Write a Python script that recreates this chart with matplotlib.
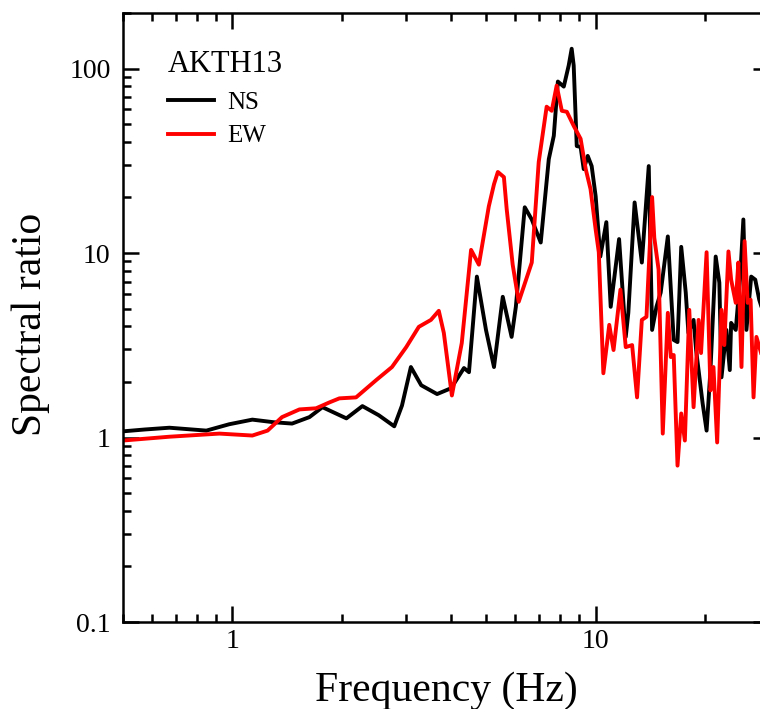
import numpy as np
import matplotlib
matplotlib.use("Agg")
import matplotlib.pyplot as plt
from matplotlib.ticker import LogLocator, FixedFormatter, NullFormatter

plt.rcParams['font.family'] = ['Liberation Serif', 'DejaVu Serif']

# NS component
ns_freq = [0.50, 0.573, 0.671, 0.848, 0.98, 1.135, 1.30, 1.46, 1.63, 1.77,
           2.06, 2.28, 2.53, 2.79, 2.93, 3.10, 3.31, 3.66, 4.00, 4.34,
           4.48, 4.71, 4.99, 5.25, 5.55, 5.87, 6.03, 6.38, 6.67, 7.06,
           7.43, 7.67, 7.87, 8.17, 8.43, 8.59, 8.70, 8.87, 9.09, 9.27,
           9.51, 9.75, 10.0, 10.3, 10.7, 11.0, 11.6, 12.1, 12.3, 12.8,
           13.4, 14.0, 14.3, 14.7, 15.1, 15.8, 16.4, 16.8, 17.2, 17.7,
           18.0, 18.6, 18.9, 19.7, 20.2, 20.7, 21.4, 21.9, 22.2, 22.9,
           23.4, 23.6, 24.3, 25.0, 25.5, 26.0, 26.8, 27.5, 28.2, 30.0]
ns_ratio = [1.08, 1.105, 1.13, 1.09, 1.18, 1.25, 1.21, 1.19, 1.29, 1.46,
            1.27, 1.48, 1.32, 1.15, 1.49, 2.41, 1.92, 1.72, 1.85, 2.38,
            2.26, 7.45, 3.83, 2.41, 5.79, 3.51, 5.11, 17.7, 15.2, 11.4,
            32.3, 43.2, 85.0, 79.8, 104.0, 128.0, 104.0, 38.0, 37.6, 28.5,
            33.6, 29.6, 20.3, 9.57, 14.7, 5.11, 11.9, 3.51, 4.74, 18.8,
            8.88, 29.6, 3.83, 5.11, 6.1, 12.3, 3.38, 3.29, 10.8, 6.1,
            3.69, 4.34, 2.98, 1.53, 1.09, 2.32, 9.57, 6.9, 2.12, 3.83,
            2.32, 4.18, 3.83, 7.45, 15.2, 3.83, 7.45, 7.17, 5.58, 3.8]

# EW component
ew_freq = [0.50, 0.671, 0.921, 1.135, 1.25, 1.37, 1.53, 1.70, 1.85, 1.97,
           2.19, 2.49, 2.75, 3.01, 3.26, 3.52, 3.70, 3.82, 4.02, 4.28,
           4.54, 4.77, 5.08, 5.25, 5.38, 5.59, 5.69, 5.91, 6.14, 6.67,
           6.97, 7.33, 7.57,
           7.81, 8.07, 8.33, 8.70, 9.09, 9.39, 9.68, 10.0, 10.2, 10.5,
           10.9, 11.2, 11.7, 12.1, 12.6, 13.0, 13.4, 13.8, 14.3, 14.5,
           14.9, 15.3, 15.8, 16.1, 16.4, 16.8, 17.2, 17.6, 18.1, 18.6,
           19.2, 19.5, 20.2, 20.7, 21.1, 21.6, 22.2, 22.6, 23.2, 23.6,
           24.3, 24.7, 25.2, 25.7, 26.2, 26.7, 27.2, 27.7, 28.9, 30.0]
ew_ratio = [0.963, 1.01, 1.05, 1.025, 1.09, 1.29, 1.42, 1.44, 1.55, 1.63,
            1.65, 2.05, 2.41, 3.09, 3.98, 4.34, 4.86, 3.69, 1.69, 3.25,
            10.4, 8.65, 17.9, 23.6, 27.5, 25.8, 17.3, 8.65, 5.44, 8.88,
            31.1, 62.1, 59.0,
            80.8, 59.0, 58.3, 48.9, 41.6, 28.5, 22.2, 13.4, 10.1, 2.23,
            4.08, 2.98, 6.33, 3.09, 3.17, 1.65, 4.34, 4.51, 20.1, 12.1,
            8.13, 1.05, 4.74, 2.73, 2.80, 0.704, 1.35, 0.963, 4.92, 1.46,
            4.34, 2.87, 10.1, 1.80, 2.41, 0.94, 4.92, 3.17, 10.2, 7.17,
            5.37, 8.88, 2.41, 11.6, 5.37, 5.58, 1.65, 3.51, 2.63, 3.83]

fig = plt.figure(figsize=(7.6, 7.09), dpi=100)
ax = fig.add_axes([123 / 760, 1 - 622 / 709, 646 / 760, 609 / 709])

ax.plot(ns_freq, ns_ratio, color='black', lw=2.8, solid_joinstyle='round', label='NS')
ax.plot(ew_freq, ew_ratio, color='#ff0000', lw=2.8, solid_joinstyle='round', label='EW')

ax.set_xscale('log')
ax.set_yscale('log')
ax.set_xlim(0.5, 30)
ax.set_ylim(0.1, 200)

ax.set_xticks([1, 10])
ax.xaxis.set_major_formatter(FixedFormatter(['1', '10']))
ax.xaxis.set_minor_locator(LogLocator(base=10, subs=np.arange(2, 10)))
ax.xaxis.set_minor_formatter(NullFormatter())
ax.set_yticks([0.1, 1, 10, 100])
ax.yaxis.set_major_formatter(FixedFormatter(['0.1', '1', '10', '100']))
ax.yaxis.set_minor_locator(LogLocator(base=10, subs=np.arange(2, 10)))
ax.yaxis.set_minor_formatter(NullFormatter())

ax.tick_params(which='both', direction='in', top=True, right=True, width=1.8, labelsize=20)
ax.tick_params(which='major', length=11.5)
ax.tick_params(which='minor', length=6)
ax.tick_params(axis='x', pad=5)
ax.tick_params(axis='y', pad=9)
for s in ax.spines.values():
    s.set_linewidth(1.8)

ax.set_xlabel('Frequency (Hz)', fontsize=30, labelpad=13)
ax.set_ylabel('Spectral ratio', fontsize=30)
ax.yaxis.set_label_coords(-0.113, 0.488)

leg = ax.legend(title='AKTH13', loc='upper left', bbox_to_anchor=(0.069, 0.94),
                frameon=False, fontsize=18, title_fontsize=22, alignment='left',
                handlelength=1.85, handletextpad=0.55, labelspacing=0.45,
                borderpad=0, borderaxespad=0)
leg._legend_box.sep = 9

fig.savefig('out.png', dpi=100)
